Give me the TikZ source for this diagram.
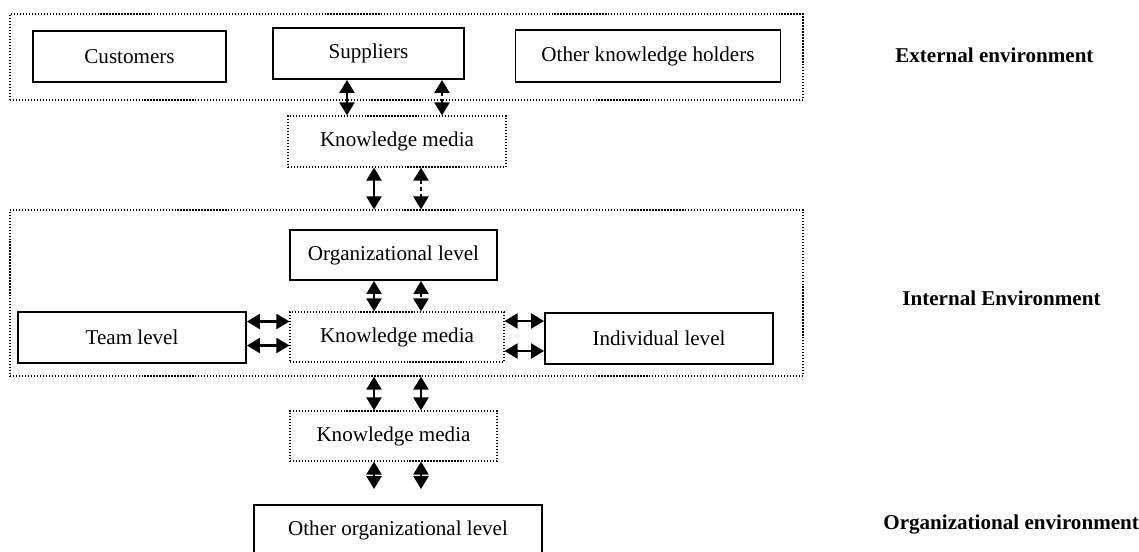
\documentclass[12pt,tikz,border=0pt]{standalone}
\usepackage{fontspec}
\setmainfont{Liberation Serif}
\usetikzlibrary{
  arrows.meta,
  positioning
}

\begin{document}
\begin{tikzpicture}[
    x=0.02cm, y=-0.02cm,
    >={Triangle[width=0.3cm, length=0.26cm]},
    levelbox/.style={draw, line width=1.1pt, align=center, font=\normalsize, inner sep=0pt},
    mediabox/.style={draw, densely dotted, line width=0.7pt, align=center, font=\normalsize, inner sep=0pt},
    envbox/.style={draw, densely dotted, line width=0.7pt, inner sep=0pt},
    envlabel/.style={anchor=west, font=\normalsize\bfseries, inner sep=0pt},
    biarrow/.style={<->, line width=1.2pt},
    dotarrow/.style={<->, line width=1.2pt, dash pattern=on 2pt off 2pt}
  ]

  \path[use as bounding box, clip] (0,0) rectangle (1139,551);

  %% --- External environment ---
  \node[envbox, minimum width=15.86cm, minimum height=1.72cm] (ext) at (406.5,57) {};
  \node[levelbox, minimum width=3.86cm, minimum height=1.02cm] (cust) at (129.5,56.5) {Customers};
  \node[levelbox, minimum width=3.82cm, minimum height=1.02cm] (supp) at (368.5,53.5) {Suppliers};
  \node[levelbox, minimum width=5.3cm, minimum height=1.04cm] (okh) at (648,56) {Other knowledge holders};
  \node[envlabel] (extlabel) at (895,55) {External environment};

  \node[mediabox, minimum width=4.36cm, minimum height=1.02cm] (km1) at (397,141.5) {Knowledge media};

  %% --- Internal environment ---
  \node[envbox, minimum width=15.86cm, minimum height=3.32cm] (int) at (406.5,293) {};
  \node[levelbox, minimum width=4.14cm, minimum height=1.0cm] (org) at (393.5,255) {Organizational level};
  \node[mediabox, minimum width=4.28cm, minimum height=1.0cm] (km2) at (397,337) {Knowledge media};
  \node[levelbox, minimum width=4.56cm, minimum height=1.02cm] (team) at (132,337.5) {Team level};
  \node[levelbox, minimum width=4.56cm, minimum height=1.02cm] (indiv) at (659,338.5) {Individual level};
  \node[envlabel] (intlabel) at (902,298) {Internal Environment};

  \node[mediabox, minimum width=4.14cm, minimum height=1.0cm] (km3) at (393.5,436) {Knowledge media};

  %% --- Organizational environment ---
  \node[levelbox, minimum width=5.76cm, minimum height=1.0cm] (other) at (398,530) {Other organizational level};
  \node[envlabel] (orglabel) at (883,525) {Organizational environment};

  %% --- Columns of the vertical connectors ---
  \coordinate (colA) at (347,0);
  \coordinate (colB) at (442,0);
  \coordinate (colC) at (374,0);
  \coordinate (colD) at (421,0);

  %% --- Connections ---
  \draw[biarrow]  (supp.south -| colA) -- (km1.north -| colA);
  \draw[dotarrow] (supp.south -| colB) -- (km1.north -| colB);
  \draw[biarrow]  (km1.south -| colC) -- (int.north -| colC);
  \draw[dotarrow] (km1.south -| colD) -- (int.north -| colD);
  \draw[biarrow]  (org.south -| colC) -- (km2.north -| colC);
  \draw[dotarrow] (org.south -| colD) -- (km2.north -| colD);

  \draw[biarrow] ([yshift=-0.16cm]team.east) -- ([yshift=-0.16cm]team.east -| km2.west);
  \draw[biarrow] ([yshift=0.32cm]team.east) -- ([yshift=0.32cm]team.east -| km2.west);
  \draw[biarrow] ([yshift=0.35cm]indiv.west) -- ([yshift=0.35cm]indiv.west -| km2.east);
  \draw[biarrow] ([yshift=-0.25cm]indiv.west) -- ([yshift=-0.25cm]indiv.west -| km2.east);

  \draw[biarrow] (int.south -| colC) -- (km3.north -| colC);
  \draw[biarrow] (int.south -| colD) -- (km3.north -| colD);
  \draw[biarrow, shorten >=0.3cm] (km3.south -| colC) -- (other.north -| colC);
  \draw[biarrow, shorten >=0.3cm] (km3.south -| colD) -- (other.north -| colD);
\end{tikzpicture}
\end{document}
